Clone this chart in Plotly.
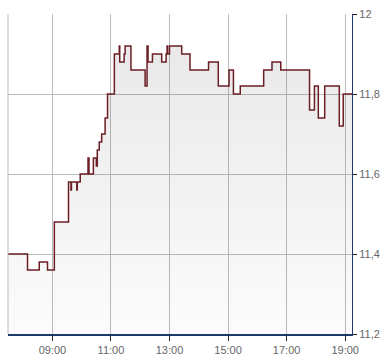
import plotly.graph_objects as go

DAY = "2024-01-02 "
times = ["07:30", "08:09", "08:33", "08:50", "09:04", "09:33", "09:38", "09:39", "09:50", "09:51",
         "09:57", "10:13", "10:15", "10:24", "10:30", "10:32", "10:36", "10:41", "10:48", "10:53",
         "11:07", "11:17", "11:18", "11:27", "11:29", "11:41", "12:10", "12:14", "12:16", "12:25",
         "12:44", "12:53", "12:55", "12:56", "13:00", "13:25", "13:42", "14:20", "14:40", "15:02",
         "15:11", "15:25", "16:13", "16:30", "16:48", "17:47", "17:57", "18:05", "18:18", "18:48",
         "18:56", "19:14"]
prices = [11.40, 11.36, 11.38, 11.36, 11.48, 11.58, 11.56, 11.58, 11.56, 11.58,
          11.60, 11.64, 11.60, 11.64, 11.62, 11.66, 11.68, 11.70, 11.74, 11.80,
          11.90, 11.92, 11.88, 11.90, 11.92, 11.86, 11.82, 11.92, 11.88, 11.90,
          11.88, 11.90, 11.92, 11.90, 11.92, 11.90, 11.86, 11.88, 11.82, 11.86,
          11.80, 11.82, 11.86, 11.88, 11.86, 11.76, 11.82, 11.74, 11.82, 11.72,
          11.80, 11.80]
y_ticks = [11.2, 11.4, 11.6, 11.8, 12.0]
y_labels = ["11,2", "11,4", "11,6", "11,8", "12"]
x_ticks = ["09:00", "11:00", "13:00", "15:00", "17:00", "19:00"]
x_start, x_end = "07:29", "19:14"
y_min, y_max = 11.2, 12.0

xs = [DAY + t for t in times]

fig = go.Figure()
fig.add_trace(go.Scatter(
    x=[DAY + x_start, DAY + x_end], y=[y_min, y_min], mode="lines",
    line=dict(width=0), hoverinfo="skip", showlegend=False))
fig.add_trace(go.Scatter(
    x=xs, y=prices, mode="lines", line_shape="hv",
    line=dict(color="#6b1e24", width=1.5),
    fill="tonexty",
    fillgradient=dict(type="vertical", start=y_min, stop=y_max,
                      colorscale=[[0, "rgba(0,0,0,0.012)"], [1, "rgba(0,0,0,0.095)"]]),
    showlegend=False))

font = dict(family="Liberation Sans, Arial, sans-serif", size=11, color="#666666")
fig.update_layout(
    width=390, height=364,
    margin=dict(l=8, r=38, t=11, b=26),
    paper_bgcolor="white", plot_bgcolor="white",
    font=font, showlegend=False,
    xaxis=dict(range=[DAY + x_start, DAY + x_end], tickvals=[DAY + t for t in x_ticks],
               ticktext=x_ticks, showgrid=True, gridcolor="#bdbdbd", gridwidth=1,
               showline=True, linecolor="#1d3a6a", linewidth=1.5,
               ticks="outside", ticklen=5, tickcolor="#222222", zeroline=False,
               tickfont=font),
    yaxis=dict(range=[y_min, y_max], side="right", tickvals=y_ticks, ticktext=y_labels,
               showgrid=True, gridcolor="#bdbdbd", gridwidth=1,
               showline=True, linecolor="#1d3a6a", linewidth=1.2,
               ticks="outside", ticklen=4, tickcolor="#222222", zeroline=False,
               tickfont=font),
    shapes=[dict(type="line", xref="paper", yref="paper", x0=0, x1=0, y0=0, y1=1,
                 line=dict(color="#bdbdbd", width=1), layer="below")],
)
fig.write_html("out.html")
